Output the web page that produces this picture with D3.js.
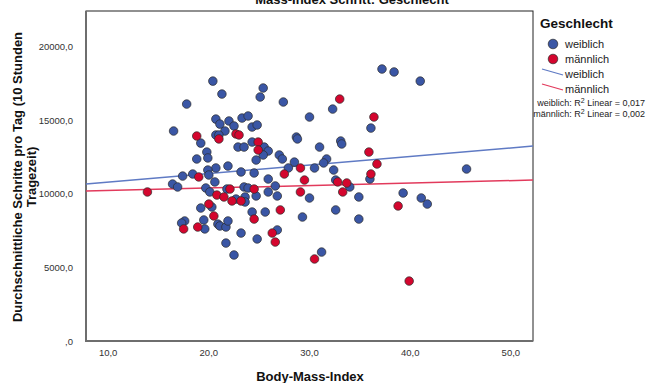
<!DOCTYPE html>
<html>
<head>
    <title></title>
    <style>
        body {
            margin: 0;
            background: #fff;
            font-family: Arial, "Liberation Sans", sans-serif;
        }
        .frame {
            fill: none;
            stroke: #222;
            stroke-width: 1px;
        }
        .axisline {
            stroke: #6e6e6e;
            stroke-width: 2px;
        }
        .tick {
            font-size: 9.5px;
            fill: #333;
        }
        .title {
            font-size: 13px;
            font-weight: bold;
            fill: #111;
        }
        .dot {
            stroke: #2b2b2b;
            stroke-width: 0.7px;
        }
        .fit {
            fill: none;
            stroke-width: 1.5px;
        }
    </style>
</head>
<body>
<script src="https://cdnjs.cloudflare.com/ajax/libs/d3/7.8.5/d3.min.js"></script>
<script>
    var width = 646;
    var height = 383;

    // BMI, steps per day
    var weiblich = [
        [20.4, 17650], [21.3, 16770], [17.8, 16090], [25.4, 17180], [25.1, 16570],
        [27.4, 16230], [32.3, 15750], [30.0, 15210], [37.2, 18470], [38.4, 18270],
        [41.0, 17650], [36.1, 14460], [20.7, 15070], [21.1, 14730], [22.0, 14940],
        [22.5, 14600], [23.3, 15140], [23.9, 15280], [24.3, 14530], [24.8, 14670],
        [16.5, 14260], [21.6, 14260], [19.2, 13440], [20.7, 13990], [21.0, 13990],
        [22.9, 13170], [23.5, 13170], [24.3, 13510], [25.5, 13170], [25.9, 12900],
        [28.7, 13850], [28.8, 13720], [31.0, 13170], [33.1, 13580], [33.2, 13380],
        [19.8, 12830], [19.9, 12430], [18.8, 12360], [25.4, 12630], [24.7, 12290],
        [27.0, 12630], [27.3, 12360], [28.5, 12150], [31.7, 12360], [31.4, 12090],
        [45.6, 11680], [20.7, 11750], [21.9, 11880], [19.9, 11610], [20.0, 11270],
        [17.4, 11200], [18.4, 11340], [23.2, 11480], [24.5, 11410], [30.5, 11750],
        [27.9, 11750], [32.4, 11610], [36.0, 11000], [25.9, 11000], [32.6, 10930],
        [34.0, 10460], [16.4, 10660], [16.9, 10460], [19.7, 10390], [20.1, 10120],
        [20.6, 10800], [21.8, 10320], [22.7, 9640], [23.6, 9780], [23.6, 9440],
        [23.5, 10460], [23.9, 10390], [26.6, 10530], [24.7, 9850], [25.9, 10120],
        [26.8, 9850], [30.0, 9710], [34.9, 9780], [39.3, 10050], [41.1, 9710],
        [41.7, 9300], [19.2, 9030], [20.3, 9100], [19.5, 8220], [17.6, 8150],
        [17.3, 8010], [19.6, 7610], [20.9, 7940], [21.1, 7810], [21.7, 7740],
        [21.9, 8150], [23.2, 7330], [21.7, 6650], [22.5, 5840], [24.3, 8760],
        [25.6, 8760], [29.3, 8420], [32.6, 8900], [34.9, 8280], [26.8, 7540],
        [24.8, 6930], [31.2, 6040]
    ];
    var maennlich = [
        [33.0, 16430], [36.4, 15210], [18.8, 13920], [21.0, 13720], [22.7, 14060],
        [23.0, 13990], [24.9, 13510], [24.9, 12970], [35.9, 12830], [36.7, 12020],
        [19.0, 11140], [29.1, 11750], [27.5, 11340], [29.5, 10930], [36.1, 11340],
        [32.8, 10800], [33.7, 10730], [13.9, 10120], [20.8, 9910], [21.5, 9780],
        [22.1, 10320], [22.3, 9510], [23.2, 9510], [24.5, 10320], [29.1, 10120],
        [33.3, 10120], [38.8, 9170], [20.0, 9300], [20.5, 8490], [17.5, 7610],
        [18.9, 7740], [24.5, 8280], [27.1, 8900], [26.3, 7330], [26.6, 6720],
        [30.5, 5570], [39.9, 4070]
    ];

    // linear fit lines: [intercept, slope]
    var fitWeiblich = [10207, 58.1];
    var fitMaennlich = [10054, 16.8];

    var xTicks = [10, 20, 30, 40, 50];
    var yTicks = [0, 5000, 10000, 15000, 20000];
    var groups = ["weiblich", "männlich"];
    var r2Labels = [["weiblich: R", " Linear = 0,017"], ["männlich: R", " Linear = 0,002"]];

    var blue = "#3a56a5";
    var red = "#d4062e";
    var blueLine = "#5f7ac4";
    var redLine = "#e23a5c";

    var pLeft = 86, pRight = 533, pTop = 11, pBottom = 341;

    var x = d3.scaleLinear().domain([7.8, 52.2]).range([pLeft, pRight]);
    var y = d3.scaleLinear().domain([0, 22410]).range([pBottom, pTop]);

    function fmt(d) {
        var s = d3.format(".1f")(d).replace(".", ",");
        return s.charAt(0) === "0" ? s.slice(1) : s;
    }

    var svg = d3.select("body").append("svg")
            .attr("width", width)
            .attr("height", height);

    svg.append("text").attr("class", "title")
            .attr("x", 352).attr("y", 4)
            .attr("text-anchor", "middle")
            .text("Mass-Index  Schritt: Geschlecht");

    // frame
    svg.append("rect").attr("class", "frame")
            .attr("x", pLeft).attr("y", pTop)
            .attr("width", pRight - pLeft).attr("height", pBottom - pTop);
    svg.append("line").attr("class", "axisline")
            .attr("x1", pLeft).attr("x2", pLeft).attr("y1", pTop).attr("y2", pBottom + 1);
    svg.append("line").attr("class", "axisline")
            .attr("x1", pLeft - 1).attr("x2", pRight).attr("y1", pBottom).attr("y2", pBottom);

    // tick labels
    svg.selectAll(".ytick").data(yTicks).enter().append("text")
            .attr("class", "tick")
            .attr("x", 73)
            .attr("y", function(d) {return y(d) + 3.5;})
            .attr("text-anchor", "end")
            .text(fmt);
    svg.selectAll(".xtick").data(xTicks).enter().append("text")
            .attr("class", "tick")
            .attr("x", function(d) {return x(d);})
            .attr("y", 356)
            .attr("text-anchor", "middle")
            .text(fmt);

    // axis titles
    svg.append("text").attr("class", "title")
            .attr("x", 310).attr("y", 381)
            .attr("text-anchor", "middle")
            .text("Body-Mass-Index");
    var yt = svg.append("text").attr("class", "title")
            .attr("transform", "translate(22,177)rotate(-90)")
            .attr("text-anchor", "middle");
    yt.append("tspan").attr("x", 0).attr("y", 0).text("Durchschnittliche Schritte pro Tag (10 Stunden");
    yt.append("tspan").attr("x", 0).attr("y", 14).text("Tragezeit)");

    // fit lines
    var fits = [[fitWeiblich, blueLine], [fitMaennlich, redLine]];
    svg.selectAll(".fit").data(fits).enter().append("line")
            .attr("class", "fit")
            .attr("stroke", function(d) {return d[1];})
            .attr("x1", x(x.domain()[0]))
            .attr("x2", x(x.domain()[1]))
            .attr("y1", function(d) {return y(d[0][0] + d[0][1] * x.domain()[0]);})
            .attr("y2", function(d) {return y(d[0][0] + d[0][1] * x.domain()[1]);});

    // points
    svg.append("g").selectAll("circle").data(weiblich).enter().append("circle")
            .attr("class", "dot")
            .attr("fill", blue)
            .attr("r", 4.3)
            .attr("cx", function(d) {return x(d[0]);})
            .attr("cy", function(d) {return y(d[1]);});
    svg.append("g").selectAll("circle").data(maennlich).enter().append("circle")
            .attr("class", "dot")
            .attr("fill", red)
            .attr("r", 4.3)
            .attr("cx", function(d) {return x(d[0]);})
            .attr("cy", function(d) {return y(d[1]);});

    // legend
    var lg = svg.append("g");
    lg.append("text").attr("class", "title")
            .attr("x", 540).attr("y", 28)
            .style("font-size", "13.5px")
            .text("Geschlecht");
    lg.selectAll(".mk").data([blue, red]).enter().append("circle")
            .attr("class", "dot")
            .attr("cx", 553)
            .attr("cy", function(d, i) {return 44 + i * 15;})
            .attr("r", 4.8)
            .attr("fill", function(d) {return d;});
    lg.selectAll(".ln").data([blueLine, redLine]).enter().append("line")
            .attr("x1", 542).attr("x2", 563)
            .attr("y1", function(d, i) {return 69 + i * 15;})
            .attr("y2", function(d, i) {return 75 + i * 15;})
            .attr("stroke", function(d) {return d;})
            .attr("stroke-width", 1.2);
    lg.selectAll(".lt").data(groups.concat(groups)).enter().append("text")
            .attr("x", 565)
            .attr("y", function(d, i) {return 48 + i * 15;})
            .style("font-size", "11px")
            .style("fill", "#222")
            .text(function(d) {return d;});
    var r2 = lg.selectAll(".r2").data(r2Labels).enter().append("text")
            .attr("x", 645)
            .attr("y", function(d, i) {return 106 + i * 11;})
            .attr("text-anchor", "end")
            .style("font-size", "9px")
            .style("fill", "#222");
    r2.append("tspan").text(function(d) {return d[0];});
    r2.append("tspan").attr("dy", -3).style("font-size", "7px").text("2");
    r2.append("tspan").attr("dy", 3).text(function(d) {return d[1];});
</script>
</body>
</html>
